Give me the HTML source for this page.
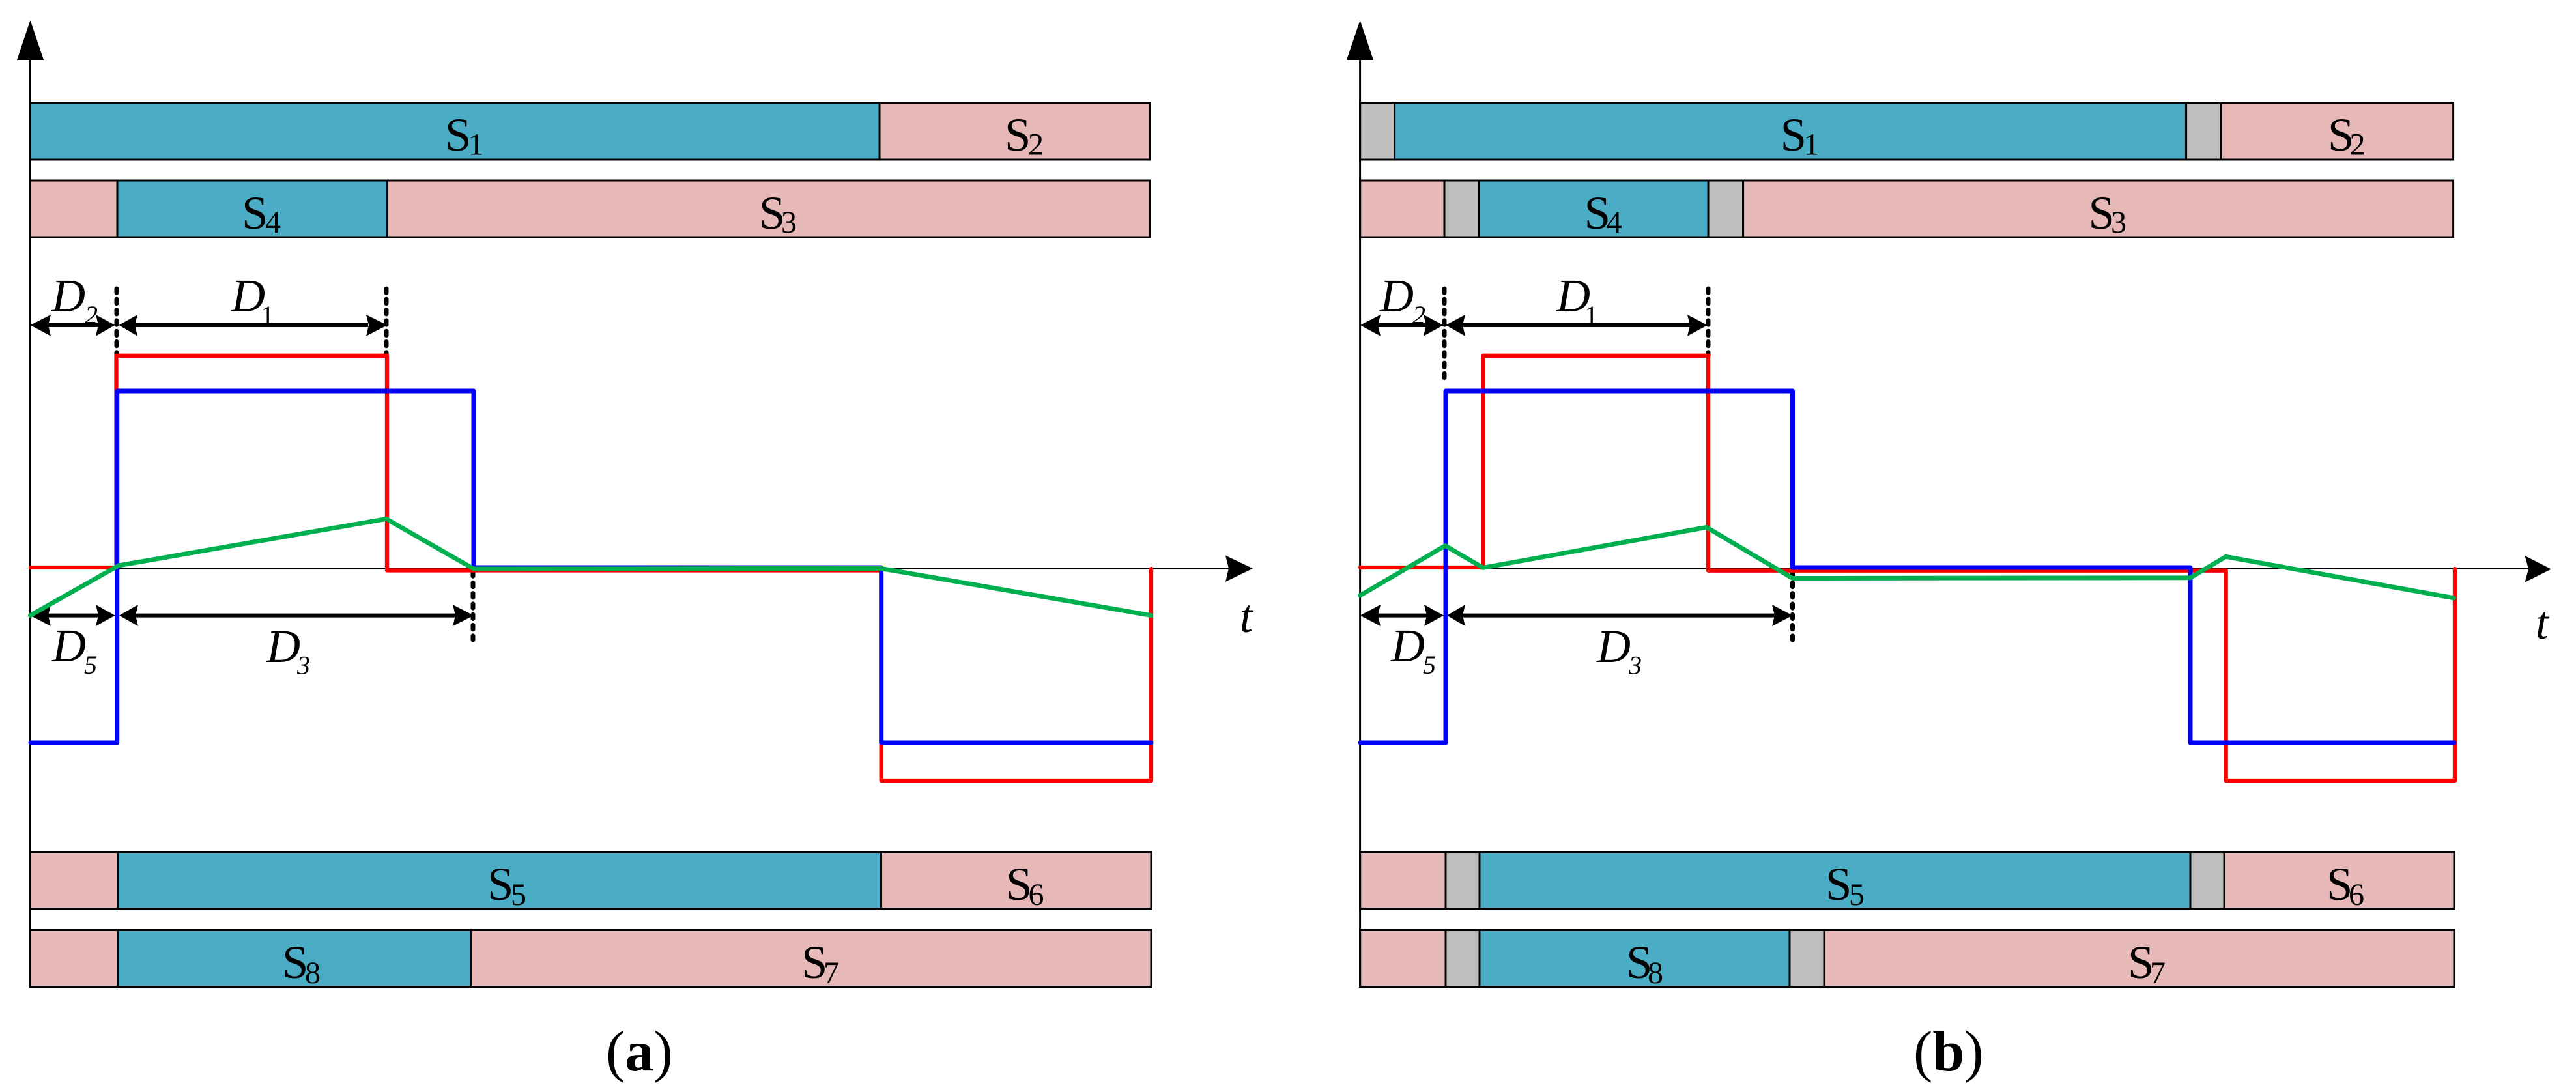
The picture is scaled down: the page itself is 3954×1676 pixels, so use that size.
<!DOCTYPE html>
<html><head><meta charset="utf-8"><style>
html,body{margin:0;padding:0;background:#fff}
svg{display:block}
text{fill:#000;font-family:"Liberation Serif",serif}
.s{font-size:72.5px}.n{font-size:48px}
.d{font-size:72px;font-style:italic}.m{font-size:40px;font-style:italic}.u{font-size:40px}
.c{font-size:88px}
</style></head><body>
<svg xmlns="http://www.w3.org/2000/svg" width="3954" height="1676" viewBox="0 0 3954 1676">
<rect width="3954" height="1676" fill="#fff"/>

<!-- PANEL A bars -->
<g stroke="#000" stroke-width="3">
<rect x="46.5" y="157.5" width="1303.5" height="87.5" fill="#4BACC6"/>
<rect x="1350" y="157.5" width="415" height="87.5" fill="#E6B9B8"/>
<rect x="46.5" y="277" width="133.5" height="87" fill="#E6B9B8"/>
<rect x="180" y="277" width="414.5" height="87" fill="#4BACC6"/>
<rect x="594.5" y="277" width="1170.5" height="87" fill="#E6B9B8"/>
<rect x="46.5" y="1307.5" width="134" height="87" fill="#E6B9B8"/>
<rect x="180.5" y="1307.5" width="1172" height="87" fill="#4BACC6"/>
<rect x="1352.5" y="1307.5" width="414.5" height="87" fill="#E6B9B8"/>
<rect x="46.5" y="1427.5" width="134" height="87" fill="#E6B9B8"/>
<rect x="180.5" y="1427.5" width="542" height="87" fill="#4BACC6"/>
<rect x="722.5" y="1427.5" width="1044.5" height="87" fill="#E6B9B8"/>
</g>

<!-- PANEL B bars -->
<g stroke="#000" stroke-width="3">
<rect x="2087.6" y="157.5" width="53" height="87.5" fill="#BFBFBF"/>
<rect x="2140.6" y="157.5" width="1215" height="87.5" fill="#4BACC6"/>
<rect x="3355.6" y="157.5" width="53" height="87.5" fill="#BFBFBF"/>
<rect x="3408.6" y="157.5" width="357" height="87.5" fill="#E6B9B8"/>
<rect x="2087.6" y="277" width="129.4" height="87" fill="#E6B9B8"/>
<rect x="2217" y="277" width="53" height="87" fill="#BFBFBF"/>
<rect x="2270" y="277" width="352" height="87" fill="#4BACC6"/>
<rect x="2622" y="277" width="53.6" height="87" fill="#BFBFBF"/>
<rect x="2675.6" y="277" width="1090" height="87" fill="#E6B9B8"/>
<rect x="2087.6" y="1307.5" width="131.4" height="87" fill="#E6B9B8"/>
<rect x="2219" y="1307.5" width="52" height="87" fill="#BFBFBF"/>
<rect x="2271" y="1307.5" width="1091" height="87" fill="#4BACC6"/>
<rect x="3362" y="1307.5" width="52" height="87" fill="#BFBFBF"/>
<rect x="3414" y="1307.5" width="353" height="87" fill="#E6B9B8"/>
<rect x="2087.6" y="1427.5" width="131.4" height="87" fill="#E6B9B8"/>
<rect x="2219" y="1427.5" width="52" height="87" fill="#BFBFBF"/>
<rect x="2271" y="1427.5" width="476" height="87" fill="#4BACC6"/>
<rect x="2747" y="1427.5" width="53" height="87" fill="#BFBFBF"/>
<rect x="2800" y="1427.5" width="967" height="87" fill="#E6B9B8"/>
</g>

<!-- S labels A -->
<text class="s" x="683" y="231">S</text><text class="n" x="718.5" y="237.5">1</text>
<text class="s" x="1542" y="231">S</text><text class="n" x="1578" y="237.5">2</text>
<text class="s" x="371" y="351">S</text><text class="n" x="407" y="357">4</text>
<text class="s" x="1165" y="351">S</text><text class="n" x="1199" y="357">3</text>
<text class="s" x="748" y="1381">S</text><text class="n" x="784" y="1389">5</text>
<text class="s" x="1544" y="1381">S</text><text class="n" x="1578.5" y="1389">6</text>
<text class="s" x="1230" y="1501">S</text><text class="n" x="1264" y="1509">7</text>
<text class="s" x="433" y="1501">S</text><text class="n" x="468" y="1509">8</text>

<!-- S labels B -->
<text class="s" x="2732.6" y="231">S</text><text class="n" x="2768.5" y="237.5">1</text>
<text class="s" x="3573" y="231">S</text><text class="n" x="3606.5" y="237.5">2</text>
<text class="s" x="2431.6" y="351">S</text><text class="n" x="2465.5" y="357">4</text>
<text class="s" x="3205.5" y="351">S</text><text class="n" x="3240" y="357">3</text>
<text class="s" x="2802" y="1381">S</text><text class="n" x="2838" y="1389">5</text>
<text class="s" x="3571" y="1381">S</text><text class="n" x="3605" y="1389">6</text>
<text class="s" x="3266" y="1501">S</text><text class="n" x="3300" y="1509">7</text>
<text class="s" x="2496" y="1501">S</text><text class="n" x="2529" y="1509">8</text>

<!-- D labels A -->
<text class="d" x="79" y="478">D</text><text class="m" x="130" y="497">2</text>
<text class="d" x="355" y="478">D</text><text class="u" x="400.6" y="497">1</text>
<text class="d" x="80" y="1015">D</text><text class="m" x="129" y="1034">5</text>
<text class="d" x="409" y="1016">D</text><text class="m" x="456" y="1034.5">3</text>
<text class="d" x="1903" y="970">t</text>

<!-- D labels B -->
<text class="d" x="2118" y="478">D</text><text class="m" x="2168" y="497">2</text>
<text class="d" x="2389" y="478">D</text><text class="u" x="2432.6" y="497">1</text>
<text class="d" x="2135" y="1015">D</text><text class="m" x="2184" y="1034">5</text>
<text class="d" x="2451" y="1016">D</text><text class="m" x="2500" y="1034.5">3</text>
<text class="d" x="3892" y="980">t</text>

<!-- Captions -->
<text class="c" x="930" y="1643">(<tspan font-weight="bold">a</tspan>)</text>
<text class="c" x="2937" y="1643">(<tspan font-weight="bold">b</tspan>)</text>

<!-- Axes -->
<g stroke="#000" stroke-width="3" fill="none">
<path d="M46.5 85V1516"/><path d="M46.5 872.5H1890"/>
<path d="M2087.6 85V1516"/><path d="M2087.6 872.5H3885"/>
</g>
<g fill="#000">
<polygon points="46.5,31 26,92 67,92"/>
<polygon points="2087.6,31 2067,92 2108,92"/>
<polygon points="1923,872.5 1881,852.5 1886,872.5 1881,893"/>
<polygon points="3916,873.5 3875.6,853 3881,873.5 3875.6,893.6"/>
</g>

<!-- Dashed guides -->
<g stroke="#000" stroke-width="7" stroke-linecap="round" stroke-dasharray="6.3 10" fill="none">
<path d="M179 443V545"/><path d="M593 443V545"/><path d="M726 878V984"/>
<path d="M2217 443V588"/><path d="M2622 443V545"/><path d="M2751.5 878V984"/>
</g>

<!-- Dimension arrows -->
<g stroke="#000" stroke-width="6" fill="none">
<path d="M70 499H155"/><path d="M205 499H565"/><path d="M70 944.6H155"/><path d="M205 944.6H700"/>
<path d="M2110 499H2195"/><path d="M2242 499H2595"/><path d="M2110 944.6H2195"/><path d="M2245 944.6H2725"/>
</g>
<g fill="#000">
<polygon points="46.5,499 78,483 74,499 78,515.7"/><polygon points="176.5,499 147,483 151,499 147,515.7"/>
<polygon points="182.5,499 211,483 207,499 211,515.7"/><polygon points="594.5,499 562,483 566,499 562,515.7"/>
<polygon points="46.5,944.6 78,928 74,944.6 78,961"/><polygon points="176.5,944.6 147,928 151,944.6 147,961"/>
<polygon points="183,944.6 212,928 208,944.6 212,961"/><polygon points="727,944.6 695,928 699,944.6 695,961"/>
<polygon points="2087.6,499 2119,483 2115,499 2119,515.7"/><polygon points="2215.5,499 2185,483 2189,499 2185,515.7"/>
<polygon points="2219,499 2249,483 2245,499 2249,515.7"/><polygon points="2621,499 2590,483 2594,499 2590,515.7"/>
<polygon points="2087.6,944.6 2119,928 2115,944.6 2119,961"/><polygon points="2216,944.6 2186,928 2190,944.6 2186,961"/>
<polygon points="2221,944.6 2249,928 2245,944.6 2249,961"/><polygon points="2751.5,944.6 2720,928 2724,944.6 2720,961"/>
</g>

<!-- Waveforms A -->
<g fill="none" stroke-width="6.3" stroke-linejoin="round" stroke-linecap="round">
<polyline stroke="#FF0000" points="47,871 178.5,871 178.5,545.8 594,545.8 594,875.5 1352.7,875.5 1352.7,1198 1767,1198 1767,873"/>
<polyline stroke="#0000FF" stroke-width="7" points="47,1140 179.7,1140 179.7,600 727,600 727,871 1352.7,871 1352.7,1140 1767,1140"/>
<polyline stroke="#00B050" stroke-width="7" points="46.5,944.6 182,868 593,796.4 727,873 1352.7,872.5 1767,944.6"/>
</g>

<!-- Waveforms B -->
<g fill="none" stroke-width="6.3" stroke-linejoin="round" stroke-linecap="round">
<polyline stroke="#FF0000" points="2088,871 2276.4,871 2276.4,545.8 2622,545.8 2622,875.7 3416.7,875.7 3416.7,1198 3768,1198 3768,873"/>
<polyline stroke="#0000FF" stroke-width="7" points="2088,1140 2219,1140 2219,600 2751.5,600 2751.5,871 3362,871 3362,1140 3767,1140"/>
<polyline stroke="#00B050" stroke-width="7" points="2087.6,914 2218.4,837.5 2276.4,871.4 2619.5,809.3 2751.5,887.5 3362,886.8 3416.7,854.3 3766.6,917.9"/>
</g>
</svg>
</body></html>
